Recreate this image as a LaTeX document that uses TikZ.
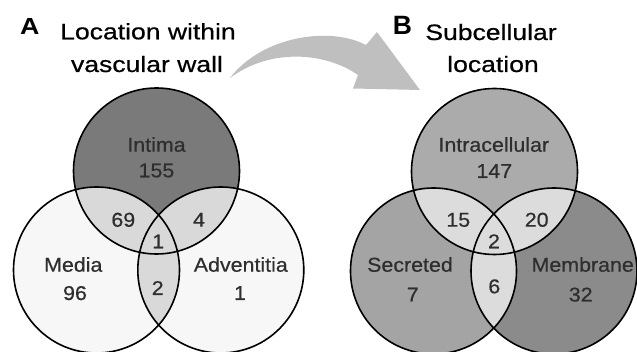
\documentclass[tikz,border=0pt]{standalone}
\usepackage{fontspec}
\newfontfamily\labfont[FakeStretch=1.07,FakeBold=0.5]{Liberation Sans}
\newfontfamily\titfont[FakeStretch=1.19,FakeBold=0.6]{Liberation Sans}
\newfontfamily\letfont[FakeStretch=1.15]{Liberation Sans Bold}
\newfontfamily\letfontB{Liberation Sans Bold}
\definecolor{labgray}{HTML}{2E2E2E}
\definecolor{intimagray}{HTML}{7A7A7A}
\definecolor{lightfill}{HTML}{F7F7F7}
\definecolor{overlapA}{HTML}{D9D9D9}
\definecolor{intragray}{HTML}{ABABAB}
\definecolor{secgray}{HTML}{A4A4A4}
\definecolor{memgray}{HTML}{8B8B8B}
\definecolor{overlapB}{HTML}{DCDCDC}
\definecolor{arrowgray}{HTML}{BFBFBF}
\tikzset{
  lab/.style={anchor=base, inner sep=0pt, text=labgray, font=\labfont\fontsize{20}{24}\selectfont},
  titletext/.style={anchor=base, inner sep=0pt, text=black, font=\titfont\fontsize{22.3}{26}\selectfont},
  letter/.style={anchor=base, inner sep=0pt, text=black, font=\letfont\fontsize{23.3}{26}\selectfont},
  letterB/.style={anchor=base, inner sep=0pt, text=black, font=\letfontB\fontsize{26.5}{28}\selectfont},
  outline/.style={draw=black, line width=1.6pt},
}
\begin{document}
\begin{tikzpicture}[x=1pt,y=-1pt]
\useasboundingbox (0,0) rectangle (637,352);
\def\R{83}
% Panel A centres
\coordinate (intima) at (156.5,171);
\coordinate (media) at (96.5,270);
\coordinate (advent) at (220.8,270);
% Panel B centres
\coordinate (intra) at (494.5,171.5);
\coordinate (secr) at (433.5,271);
\coordinate (memb) at (554,271);

% ---- Panel A fills
\fill[lightfill] (media) circle[radius=\R];
\fill[lightfill] (advent) circle[radius=\R];
\fill[intimagray] (intima) circle[radius=\R];
\begin{scope}
  \clip (intima) circle[radius=\R];
  \fill[overlapA] (media) circle[radius=\R];
  \fill[overlapA] (advent) circle[radius=\R];
\end{scope}
\begin{scope}
  \clip (media) circle[radius=\R];
  \fill[overlapA] (advent) circle[radius=\R];
\end{scope}
\draw[outline] (intima) circle[radius=\R];
\draw[outline] (media) circle[radius=\R];
\draw[outline] (advent) circle[radius=\R];

% ---- Panel B fills
\fill[secgray] (secr) circle[radius=\R];
\fill[memgray] (memb) circle[radius=\R];
\fill[intragray] (intra) circle[radius=\R];
\begin{scope}
  \clip (intra) circle[radius=\R];
  \fill[overlapB] (secr) circle[radius=\R];
  \fill[overlapB] (memb) circle[radius=\R];
\end{scope}
\begin{scope}
  \clip (secr) circle[radius=\R];
  \fill[overlapB] (memb) circle[radius=\R];
\end{scope}
\draw[outline] (intra) circle[radius=\R];
\draw[outline] (secr) circle[radius=\R];
\draw[outline] (memb) circle[radius=\R];

% ---- Curved arrow
\fill[arrowgray] (230,78) .. controls (262,36) and (330,26) .. (366,45)
  -- (377,32) -- (420,90) -- (353,88.5) -- (358,75)
  .. controls (325,52) and (270,48) .. (230,78) -- cycle;

% ---- Titles
\node[letter] (lA) at (29.7,35) {A};
\node[titletext] (tA1) at (148,39.3) {Location within};
\node[titletext] (tA2) at (147,72) {vascular wall};
\node[letterB] (lB) at (402.5,34.3) {B};
\node[titletext] (tB1) at (491,40) {Subcellular};
\node[titletext] (tB2) at (493,72) {location};

% ---- Panel A labels
\node[lab] (nIntima) at (156.5,151.7) {Intima};
\node[lab] (vIntima) at (156.5,177.3) {155};
\node[lab] (vIM) at (123.3,226.7) {69};
\node[lab] (vIA) at (199,226.7) {4};
\node[lab] (vIMA) at (158.3,248.3) {1};
\node[lab] (nMedia) at (73.3,271.7) {Media};
\node[lab] (vMedia) at (75,300) {96};
\node[lab] (vMA) at (157.7,295) {2};
\node[lab] (nAdvent) at (240.8,271.7) {Adventitia};
\node[lab] (vAdvent) at (240,300) {1};

% ---- Panel B labels
\node[lab] (nIntra) at (493.8,151.7) {Intracellular};
\node[lab] (vIntra) at (494.3,178) {147};
\node[lab] (vIS) at (458.3,226.7) {15};
\node[lab] (vIMb) at (536.7,226.7) {20};
\node[lab] (vISM) at (494,248.3) {2};
\node[lab] (nSecr) at (410,271.7) {Secreted};
\node[lab] (vSecr) at (412.7,301.5) {7};
\node[lab] (vSM) at (494.3,293.3) {6};
\node[lab] (nMemb) at (582.7,271.7) {Membrane};
\node[lab] (vMemb) at (580.7,301.5) {32};
\end{tikzpicture}
\end{document}
